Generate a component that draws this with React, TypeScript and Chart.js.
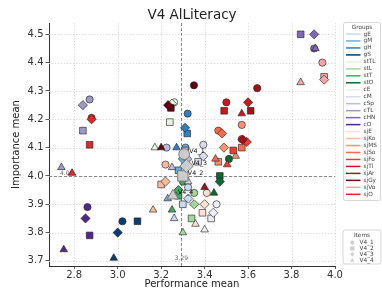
import React, { useEffect, useRef } from 'react';
import { Chart, registerables } from 'chart.js';
Chart.register(...registerables);

const groupNames = ['gE','gM','gH','gS','stTL','stL','stT','stO','cE','cM','cSp','cTL','cHN','cO','sjE','sjKo','sjMS','sjSo','sjFo','sjTl','sjAr','sjGy','sjVo','sjO'];
const groupColors = ['#c6dbef','#6baed6','#2f7fc1','#0b3a78','#e5f5e0','#a1d99b','#41ab5d','#0a6a30','#efedf5','#dadaeb','#bcbddc','#9e9ac8','#7e68b8','#54278f','#fee0d2','#fcbba1','#fc9272','#fb6a4a','#ef3b2c','#cb181d','#a50f15','#67000d','#f4a6a6','#e0282a'];
const itemNames = ['V4_1','V4_2','V4_3','V4_4'];

// Performance / importance means per item, ordered as groupNames
const perfV4_1 = [3.324,3.312,3.322,3.022,3.26,3.352,3.30,3.512,3.455,3.394,3.225,2.871,3.904,2.861,3.41,3.22,3.571,3.463,3.571,3.50,3.642,3.351,3.942,2.88];
const impV4_1 = [3.96,4.10,4.22,3.84,4.26,3.94,3.98,4.06,3.90,4.11,4.10,4.27,4.45,3.89,3.94,4.04,4.18,4.16,4.13,4.26,4.31,4.32,4.40,4.205];
const perfV4_2 = [3.30,3.28,3.32,3.091,3.24,3.34,3.28,3.47,3.43,3.37,3.31,2.84,3.842,2.871,3.39,3.20,3.463,3.571,3.532,3.49,3.612,3.245,3.95,2.871];
const impV4_2 = [3.90,4.02,4.15,3.84,4.19,3.85,3.93,4.00,3.85,4.05,4.09,4.16,4.50,3.79,3.87,3.97,4.05,4.10,4.09,4.23,4.23,4.24,4.35,4.11];
const perfV4_3 = [3.325,3.30,3.31,3.00,3.25,3.352,3.28,3.47,3.44,3.394,3.32,2.84,3.904,2.852,3.40,3.22,3.489,3.48,3.594,3.60,3.575,3.232,3.95,2.88];
const impV4_3 = [3.92,4.06,4.17,3.80,4.255,3.90,3.95,3.98,3.87,4.07,4.06,4.25,4.50,3.85,3.90,3.98,4.10,4.15,4.12,4.26,4.128,4.25,4.34,4.20];
const perfV4_4 = [3.26,3.23,3.271,2.982,3.171,3.30,3.25,3.443,3.40,3.324,3.25,2.741,3.91,2.752,3.358,3.163,3.543,3.45,3.504,3.571,3.40,3.20,3.842,2.79];
const impV4_4 = [3.85,3.92,4.10,3.71,4.10,3.80,3.88,3.94,3.81,3.98,4.03,4.03,4.45,3.74,3.83,3.88,4.07,4.06,4.04,4.22,3.96,4.10,4.33,4.01];

const overallPerf = [3.306, 3.30, 3.317, 3.254];
const overallImp = [4.077, 4.00, 4.035, 3.93];
const meanPerf = 3.29;
const meanImp = 4.0;

const xTicks = [2.8, 3.0, 3.2, 3.4, 3.6, 3.8, 4.0];
const yTicks = [3.7, 3.8, 3.9, 4.0, 4.1, 4.2, 4.3, 4.4, 4.5];
const titleText = 'V4 AlLiteracy';
const xTitle = 'Performance mean';
const yTitle = 'Importance mean';

const FONT = '"DejaVu Sans", sans-serif';
const shapes = ['circle', 'rect', 'rectRot', 'triangle'];
const radii = [3.6, 4.7, 4.6, 4.4];
const bigRadii = [5.4, 7.4, 6.8, 6.4];

function marker(ctx: CanvasRenderingContext2D, shape: string, x: number, y: number, r: number) {
  ctx.beginPath();
  if (shape === 'circle') ctx.arc(x, y, r, 0, Math.PI * 2);
  else if (shape === 'rect') ctx.rect(x - r, y - r, 2 * r, 2 * r);
  else if (shape === 'rectRot') { ctx.moveTo(x, y - r * 1.2); ctx.lineTo(x + r, y); ctx.lineTo(x, y + r * 1.2); ctx.lineTo(x - r, y); ctx.closePath(); }
  else { ctx.moveTo(x, y - r); ctx.lineTo(x + r, y + r * 0.8); ctx.lineTo(x - r, y + r * 0.8); ctx.closePath(); }
  ctx.fill();
}

function roundRect(ctx: CanvasRenderingContext2D, x: number, y: number, w: number, h: number, r: number) {
  ctx.beginPath();
  ctx.moveTo(x + r, y);
  ctx.arcTo(x + w, y, x + w, y + h, r);
  ctx.arcTo(x + w, y + h, x, y + h, r);
  ctx.arcTo(x, y + h, x, y, r);
  ctx.arcTo(x, y, x + w, y, r);
  ctx.closePath();
}

const deco = {
  id: 'deco',
  beforeDatasetsDraw(chart: any) {
    const { ctx, chartArea: a, scales } = chart;
    const x = scales.x, y = scales.y;
    ctx.save();
    ctx.strokeStyle = '#d6d6d6';
    ctx.lineWidth = 0.8;
    ctx.setLineDash([1.5, 1.5]);
    xTicks.forEach((v) => {
      const px = Math.round(x.getPixelForValue(v)) + 0.5;
      ctx.beginPath(); ctx.moveTo(px, a.top); ctx.lineTo(px, a.bottom); ctx.stroke();
    });
    yTicks.forEach((v) => {
      const py = Math.round(y.getPixelForValue(v)) + 0.5;
      ctx.beginPath(); ctx.moveTo(a.left, py); ctx.lineTo(a.right, py); ctx.stroke();
    });
    ctx.strokeStyle = '#8a8a8a';
    ctx.lineWidth = 1;
    ctx.setLineDash([3, 2]);
    const mx = Math.round(x.getPixelForValue(meanPerf)) + 0.5;
    const my = Math.round(y.getPixelForValue(meanImp)) + 0.5;
    ctx.beginPath(); ctx.moveTo(mx, a.top); ctx.lineTo(mx, a.bottom); ctx.stroke();
    ctx.beginPath(); ctx.moveTo(a.left, my); ctx.lineTo(a.right, my); ctx.stroke();
    ctx.setLineDash([]);
    ctx.fillStyle = '#666';
    ctx.font = `6px ${FONT}`;
    ctx.textAlign = 'center';
    ctx.textBaseline = 'middle';
    ctx.fillText(meanPerf.toFixed(2), mx, a.bottom - 8);
    ctx.textAlign = 'left';
    ctx.fillText(meanImp.toFixed(2), a.left + 11, my - 3);
    ctx.restore();
  },
  afterDatasetsDraw(chart: any) {
    const { ctx, scales } = chart;
    ctx.save();
    ctx.fillStyle = '#111';
    ctx.font = `6.3px ${FONT}`;
    ctx.textAlign = 'left';
    ctx.textBaseline = 'middle';
    itemNames.forEach((n, k) => {
      const px = scales.x.getPixelForValue(overallPerf[k]);
      const py = scales.y.getPixelForValue(overallImp[k]);
      ctx.fillText(n, px + 5, py - 3);
    });
    ctx.restore();
  },
  afterDraw(chart: any) {
    const { ctx, chartArea: a } = chart;
    ctx.save();
    ctx.fillStyle = '#222';
    ctx.textAlign = 'center';
    ctx.textBaseline = 'alphabetic';
    ctx.font = `13.5px ${FONT}`;
    ctx.fillText(titleText, (a.left + a.right) / 2, 18.5);
    ctx.font = `10px ${FONT}`;
    ctx.textBaseline = 'middle';
    ctx.fillText(xTitle, (a.left + a.right) / 2, 284);
    ctx.translate(16, (a.top + a.bottom) / 2);
    ctx.rotate(-Math.PI / 2);
    ctx.fillText(yTitle, 0, 0);
    ctx.restore();

    // Groups legend
    ctx.save();
    ctx.fillStyle = 'rgba(255,255,255,0.85)';
    ctx.strokeStyle = '#cccccc';
    ctx.lineWidth = 0.8;
    roundRect(ctx, 343.5, 22.5, 37, 178, 2);
    ctx.fill(); ctx.stroke();
    ctx.fillStyle = '#444';
    ctx.font = `5.8px ${FONT}`;
    ctx.textAlign = 'center';
    ctx.textBaseline = 'middle';
    ctx.fillText('Groups', 362, 27);
    ctx.textAlign = 'left';
    groupNames.forEach((g, i) => {
      const yy = 34 + i * 6.97;
      ctx.strokeStyle = groupColors[i];
      ctx.lineWidth = 1.5;
      ctx.beginPath(); ctx.moveTo(346, yy); ctx.lineTo(360.5, yy); ctx.stroke();
      ctx.fillStyle = '#444';
      ctx.fillText(g, 363.5, yy);
    });

    // Items legend
    ctx.fillStyle = 'rgba(255,255,255,0.85)';
    ctx.strokeStyle = '#cccccc';
    ctx.lineWidth = 0.8;
    roundRect(ctx, 343, 230, 38, 34, 2);
    ctx.fill(); ctx.stroke();
    ctx.fillStyle = '#444';
    ctx.textAlign = 'center';
    ctx.fillText('Items', 362, 235.5);
    ctx.textAlign = 'left';
    itemNames.forEach((n, k) => {
      const yy = 242.7 + k * 5.8;
      ctx.fillStyle = '#cfcfcf';
      marker(ctx, shapes[k], 352.3, yy, 2.1);
      ctx.fillStyle = '#444';
      ctx.fillText(n, 359.5, yy);
    });
    ctx.restore();
  },
};

export default function App() {
  const ref = useRef<HTMLCanvasElement>(null);
  useEffect(() => {
    const perf = [perfV4_1, perfV4_2, perfV4_3, perfV4_4];
    const imp = [impV4_1, impV4_2, impV4_3, impV4_4];
    const datasets: any[] = groupNames.map((g, i) => ({
      label: g,
      data: [0, 1, 2, 3].map((k) => ({ x: perf[k][i], y: imp[k][i] })),
      pointStyle: shapes,
      pointRadius: radii,
      backgroundColor: groupColors[i],
      borderColor: 'rgba(35,35,35,0.9)',
      borderWidth: 0.7,
      order: 100 - i,
    }));
    datasets.push({
      label: 'Overall',
      data: [0, 1, 2, 3].map((k) => ({ x: overallPerf[k], y: overallImp[k] })),
      pointStyle: shapes,
      pointRadius: bigRadii,
      backgroundColor: '#cccccc',
      borderColor: '#666666',
      borderWidth: 0.8,
      order: 0,
    });
    const chart = new Chart(ref.current!, {
      type: 'scatter',
      data: { datasets },
      plugins: [deco],
      options: {
        responsive: false,
        animation: false,
        devicePixelRatio: 1,
        events: [],
        layout: { padding: { left: 0, top: 23, right: 47, bottom: 0 } },
        plugins: { legend: { display: false }, tooltip: { enabled: false }, title: { display: false } },
        scales: {
          x: {
            type: 'linear', min: 2.684, max: 4.0,
            afterBuildTicks: (s: any) => { s.ticks = xTicks.map((v) => ({ value: v })); },
            afterFit: (s: any) => { s.height = 24; },
            grid: { drawOnChartArea: false, drawTicks: true, tickLength: 3, color: '#333', tickWidth: 0.8 },
            border: { display: true, color: '#333', width: 1 },
            ticks: { font: { family: FONT, size: 10 }, color: '#333', padding: 0, maxRotation: 0, autoSkip: false, callback: (v: any) => Number(v).toFixed(1) },
          },
          y: {
            type: 'linear', min: 3.682, max: 4.54,
            afterBuildTicks: (s: any) => { s.ticks = yTicks.map((v) => ({ value: v })); },
            afterFit: (s: any) => { s.width = 49; },
            grid: { drawOnChartArea: false, drawTicks: true, tickLength: 3.5, color: '#333', tickWidth: 0.8 },
            border: { display: true, color: '#333', width: 1 },
            ticks: { font: { family: FONT, size: 10 }, color: '#333', padding: 2, autoSkip: false, callback: (v: any) => Number(v).toFixed(1) },
          },
        },
      } as any,
    });
    return () => chart.destroy();
  }, []);
  return (
    <div style={{ position: 'fixed', left: 0, top: 0, width: 382, height: 290, background: '#fff' }}>
      <canvas ref={ref} width={382} height={290} style={{ width: 382, height: 290 }} />
    </div>
  );
}
